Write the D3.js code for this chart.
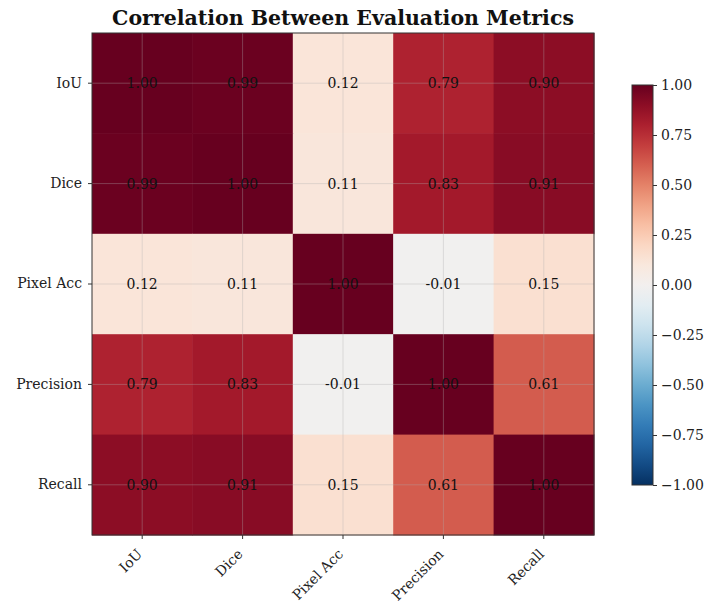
<!DOCTYPE html>
<html>
<head>
<meta charset="utf-8">
<script src="https://cdn.jsdelivr.net/npm/d3@7"></script>
<style>
  body { margin: 0; background: #fff; }
  text { font-family: "DejaVu Serif", serif; }
</style>
</head>
<body>
<div id="chart"></div>
<script>
var svgWidth = 708;
var svgHeight = 605;

var metrics = ["IoU", "Dice", "Pixel Acc", "Precision", "Recall"];
var corrIoU = [1.00, 0.99, 0.12, 0.79, 0.90];
var corrDice = [0.99, 1.00, 0.11, 0.83, 0.91];
var corrPixelAcc = [0.12, 0.11, 1.00, -0.01, 0.15];
var corrPrecision = [0.79, 0.83, -0.01, 1.00, 0.61];
var corrRecall = [0.90, 0.91, 0.15, 0.61, 1.00];
var colorbarTicks = [1.00, 0.75, 0.50, 0.25, 0.00, -0.25, -0.50, -0.75, -1.00];

var matrix = [corrIoU, corrDice, corrPixelAcc, corrPrecision, corrRecall];

var plot = { left: 92, top: 33, size: 502 };

var svg = d3.select("#chart")
  .append("svg")
  .attr("width", svgWidth)
  .attr("height", svgHeight);

// RdBu_r
var color = function(v) { return d3.interpolateRdBu((1 - v) / 2); };

var xScale = d3.scaleBand()
  .domain(metrics)
  .range([plot.left, plot.left + plot.size]);

var yScale = d3.scaleBand()
  .domain(metrics)
  .range([plot.top, plot.top + plot.size]);

// flatten cells
var cells = [];
matrix.forEach(function(row, i) {
  row.forEach(function(v, j) {
    cells.push({ row: metrics[i], col: metrics[j], value: v });
  });
});

svg.append("g")
  .selectAll("rect")
  .data(cells)
  .enter()
  .append("rect")
  .attr("x", d => xScale(d.col))
  .attr("y", d => yScale(d.row))
  .attr("width", xScale.bandwidth() + 0.5)
  .attr("height", yScale.bandwidth() + 0.5)
  .attr("fill", d => color(d.value));

// faint grid through tick positions
var grid = svg.append("g").attr("stroke", "#b0b0b0").attr("stroke-opacity", 0.35).attr("stroke-width", 1);
metrics.forEach(function(m) {
  var cx = xScale(m) + xScale.bandwidth() / 2;
  var cy = yScale(m) + yScale.bandwidth() / 2;
  grid.append("line")
    .attr("x1", cx).attr("x2", cx)
    .attr("y1", plot.top).attr("y2", plot.top + plot.size);
  grid.append("line")
    .attr("x1", plot.left).attr("x2", plot.left + plot.size)
    .attr("y1", cy).attr("y2", cy);
});

// annotations
svg.append("g")
  .selectAll("text")
  .data(cells)
  .enter()
  .append("text")
  .attr("x", d => xScale(d.col) + xScale.bandwidth() / 2)
  .attr("y", d => yScale(d.row) + yScale.bandwidth() / 2)
  .attr("dy", "0.35em")
  .attr("text-anchor", "middle")
  .attr("font-size", 14)
  .attr("fill", "#111")
  .text(d => d.value.toFixed(2));

// axes
var bottomAxis = d3.axisBottom(xScale).tickSize(4).tickPadding(4);
var leftAxis = d3.axisLeft(yScale).tickSize(4).tickPadding(6);

var xAxis = svg.append("g")
  .attr("transform", `translate(0, ${plot.top + plot.size})`)
  .call(bottomAxis);
xAxis.select(".domain").remove();
xAxis.selectAll("line").attr("stroke", "#333");
xAxis.selectAll(".tick text")
  .attr("font-size", 14)
  .attr("fill", "#222")
  .attr("text-anchor", "end")
  .attr("x", 0)
  .attr("y", 0)
  .attr("dy", 0)
  .attr("transform", "translate(1, 20) rotate(-45)");

var yAxis = svg.append("g")
  .attr("transform", `translate(${plot.left}, 0)`)
  .call(leftAxis);
yAxis.select(".domain").remove();
yAxis.selectAll("line").attr("stroke", "#333");
yAxis.selectAll("text").attr("font-size", 14).attr("fill", "#222");

// frame
svg.append("rect")
  .attr("x", plot.left).attr("y", plot.top)
  .attr("width", plot.size).attr("height", plot.size)
  .attr("fill", "none")
  .attr("stroke", "#333")
  .attr("stroke-width", 1);

// title
svg.append("text")
  .attr("x", plot.left + plot.size / 2)
  .attr("y", 25)
  .attr("text-anchor", "middle")
  .attr("font-size", 20.5)
  .attr("font-weight", "bold")
  .attr("fill", "#111")
  .text("Correlation Between Evaluation Metrics");

// colorbar
var cb = { x: 632, y: 85, w: 21, h: 400 };
var defs = svg.append("defs");
var grad = defs.append("linearGradient")
  .attr("id", "cbgrad")
  .attr("x1", "0").attr("y1", "1").attr("x2", "0").attr("y2", "0");
d3.range(0, 1.0001, 0.05).forEach(function(t) {
  grad.append("stop")
    .attr("offset", t)
    .attr("stop-color", color(t * 2 - 1));
});

svg.append("rect")
  .attr("x", cb.x).attr("y", cb.y)
  .attr("width", cb.w).attr("height", cb.h)
  .attr("fill", "url(#cbgrad)")
  .attr("stroke", "#333")
  .attr("stroke-width", 1);

var cbScale = d3.scaleLinear().domain([-1, 1]).range([cb.y + cb.h, cb.y]);
var cbAxis = svg.append("g")
  .attr("transform", `translate(${cb.x + cb.w}, 0)`)
  .call(d3.axisRight(cbScale)
    .tickValues(colorbarTicks)
    .tickSize(4)
    .tickPadding(4)
    .tickFormat(d => d3.format(".2f")(d).replace("-", "\u2212")));
cbAxis.select(".domain").remove();
cbAxis.selectAll("line").attr("stroke", "#333");
cbAxis.selectAll("text").attr("font-size", 14).attr("fill", "#222");
</script>
</body>
</html>
